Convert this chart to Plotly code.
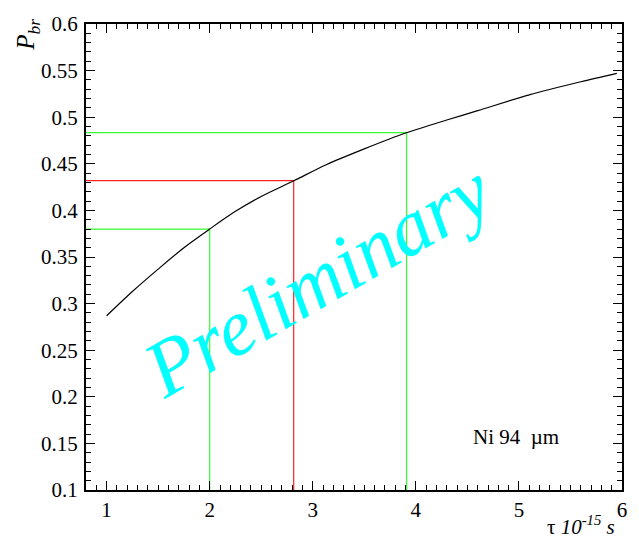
import plotly.graph_objects as go

# Breakup probability vs. lifetime (Ni, 94 um target)
tau = [1.0, 1.25, 1.5, 1.75, 2.0, 2.25, 2.5, 2.82, 3.13, 3.5, 3.9, 4.3, 4.6, 5.1, 5.6, 5.95]
p_br = [0.287, 0.313, 0.337, 0.360, 0.380, 0.399, 0.415, 0.432, 0.449, 0.466,
        0.483, 0.497, 0.507, 0.524, 0.538, 0.547]

# Read-off markers: lifetime and corresponding probability
mark_tau = [2.0, 2.815, 3.91]
mark_p = [0.380, 0.432, 0.4835]
mark_color = ["#33ff33", "#ff2020", "#33ff33"]

x_range = [0.8, 6.0]
y_range = [0.1, 0.6]

FONT = "Liberation Serif"

fig = go.Figure()

for t, p, c in zip(mark_tau, mark_p, mark_color):
    fig.add_trace(go.Scatter(
        x=[x_range[0], t, t], y=[p, p, y_range[0]],
        mode="lines", line=dict(color=c, width=1.2),
        hoverinfo="skip", showlegend=False,
    ))

fig.add_trace(go.Scatter(
    x=tau, y=p_br, mode="lines",
    line=dict(color="black", width=1.2, shape="spline", smoothing=0.8),
    showlegend=False,
))

axis_common = dict(
    showgrid=False, zeroline=False,
    showline=True, linecolor="black", linewidth=2, mirror="allticks",
    ticks="inside", ticklen=9, tickwidth=1.2, tickcolor="black",
    tickfont=dict(family=FONT, size=21, color="black"),
)

fig.update_xaxes(range=x_range, dtick=1, tick0=0,
                 minor=dict(dtick=0.1, ticks="inside", ticklen=5, tickcolor="black", tickwidth=1),
                 **axis_common)
fig.update_yaxes(range=y_range, dtick=0.05, tick0=0,
                 minor=dict(dtick=0.01, ticks="inside", ticklen=5, tickcolor="black", tickwidth=1),
                 ticklabelstandoff=2,
                 **axis_common)

fig.add_annotation(
    text="<i>Preliminary</i>", xref="paper", yref="paper", x=0.431, y=0.45,
    xanchor="center", yanchor="middle",
    showarrow=False, textangle=-30,
    font=dict(family=FONT, size=80, color="#00ffff"),
)
fig.add_annotation(
    text="Ni 94  µm", xref="paper", yref="paper", x=0.803, y=0.114,
    xanchor="center", yanchor="middle",
    showarrow=False, font=dict(family=FONT, size=21, color="black"),
)
fig.add_annotation(
    text="<i>P<sub>br</sub></i>", xref="paper", yref="paper", x=-0.108, y=0.977,
    xanchor="center", yanchor="middle",
    showarrow=False, textangle=-90,
    font=dict(family=FONT, size=25, color="black"),
)
fig.add_annotation(
    text="τ <i>10<sup>-15</sup> s</i>", xref="paper", yref="paper", x=0.99, y=-0.110,
    xanchor="right", yanchor="bottom", showarrow=False,
    font=dict(family=FONT, size=21, color="black"),
)

fig.update_layout(
    width=639, height=539,
    margin=dict(l=86, r=15, t=17, b=49),
    paper_bgcolor="white", plot_bgcolor="white",
    font=dict(family=FONT, color="black"),
)

fig.write_html("out.html")
